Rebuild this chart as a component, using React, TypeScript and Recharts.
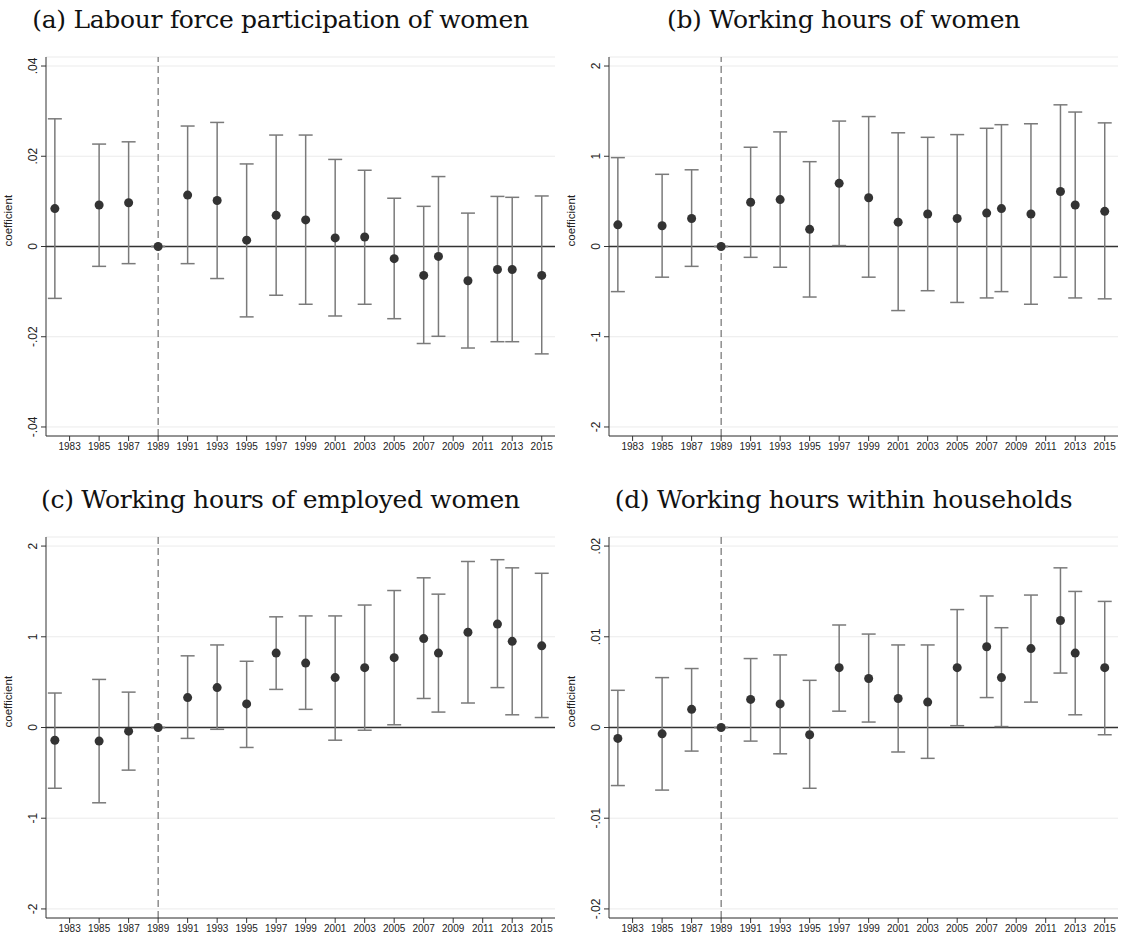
import React from "react";
import {
  ComposedChart,
  Scatter,
  ErrorBar,
  XAxis,
  YAxis,
  CartesianGrid,
  ReferenceLine,
} from "recharts";

const years = [1982, 1985, 1987, 1989, 1991, 1993, 1995, 1997, 1999, 2001, 2003, 2005, 2007, 2008, 2010, 2012, 2013, 2015];
const xTicks = [1983, 1985, 1987, 1989, 1991, 1993, 1995, 1997, 1999, 2001, 2003, 2005, 2007, 2009, 2011, 2013, 2015];

const lfpCoef = [0.0084, 0.0092, 0.0097, 0, 0.0114, 0.0102, 0.0014, 0.0069, 0.0059, 0.0019, 0.0021, -0.0027, -0.0064, -0.0022, -0.0076, -0.0051, -0.0051, -0.0064];
const lfpHi = [0.0283, 0.0227, 0.0232, 0, 0.0267, 0.0275, 0.0183, 0.0247, 0.0247, 0.0193, 0.0169, 0.0107, 0.0089, 0.0155, 0.0074, 0.0111, 0.0109, 0.0112];
const lfpLo = [-0.0115, -0.0044, -0.0038, 0, -0.0038, -0.0071, -0.0156, -0.0108, -0.0128, -0.0154, -0.0128, -0.016, -0.0215, -0.0199, -0.0225, -0.0211, -0.0211, -0.0238];

const hrsCoef = [0.24, 0.23, 0.31, 0, 0.49, 0.52, 0.19, 0.7, 0.54, 0.27, 0.36, 0.31, 0.37, 0.42, 0.36, 0.61, 0.46, 0.39];
const hrsHi = [0.985, 0.8, 0.85, 0, 1.1, 1.27, 0.94, 1.39, 1.44, 1.26, 1.21, 1.24, 1.31, 1.35, 1.36, 1.57, 1.49, 1.37];
const hrsLo = [-0.5, -0.34, -0.22, 0, -0.12, -0.23, -0.56, 0.01, -0.34, -0.71, -0.49, -0.62, -0.57, -0.5, -0.64, -0.34, -0.57, -0.58];

const empCoef = [-0.14, -0.15, -0.04, 0, 0.33, 0.44, 0.26, 0.82, 0.71, 0.55, 0.66, 0.77, 0.98, 0.82, 1.05, 1.14, 0.95, 0.9];
const empHi = [0.38, 0.53, 0.39, 0, 0.79, 0.91, 0.73, 1.22, 1.23, 1.23, 1.35, 1.51, 1.65, 1.47, 1.83, 1.85, 1.76, 1.7];
const empLo = [-0.67, -0.83, -0.47, 0, -0.12, -0.02, -0.22, 0.42, 0.2, -0.14, -0.03, 0.03, 0.32, 0.17, 0.27, 0.44, 0.14, 0.11];

const hhCoef = [-0.0012, -0.0007, 0.002, 0, 0.0031, 0.0026, -0.0008, 0.0066, 0.0054, 0.0032, 0.0028, 0.0066, 0.0089, 0.0055, 0.0087, 0.0118, 0.0082, 0.0066];
const hhHi = [0.0041, 0.0055, 0.0065, 0, 0.0076, 0.008, 0.0052, 0.0113, 0.0103, 0.0091, 0.0091, 0.013, 0.0145, 0.011, 0.0146, 0.0176, 0.015, 0.0139];
const hhLo = [-0.0064, -0.0069, -0.0026, 0, -0.0015, -0.0029, -0.0067, 0.0018, 0.0006, -0.0027, -0.0034, 0.0002, 0.0033, 0.0001, 0.0028, 0.006, 0.0014, -0.0008];

const fmt = (v: number) => {
  if (v === 0) return "0";
  const s = String(Math.round(v * 1000) / 1000);
  return s.replace("0.", ".");
};

const build = (coef: number[], hi: number[], lo: number[]) =>
  years.map((year, i) => ({
    year,
    coef: coef[i],
    err: i === 3 ? [0, 0] : [coef[i] - lo[i], hi[i] - coef[i]],
  }));

const YTick = (props: any) => {
  const { x, y, payload } = props;
  return (
    <text x={x - 2} y={y} transform={`rotate(-90 ${x - 2} ${y})`} textAnchor="middle" fontSize={12} fill="#222" fontFamily="Liberation Sans">
      {fmt(payload.value)}
    </text>
  );
};

type PanelProps = {
  title: string;
  data: { year: number; coef: number; err: number[] }[];
  ticks: number[];
  max: number;
  left: number;
  top: number;
  height: number;
};

function Panel({ title, data, ticks, max, left, top, height }: PanelProps) {
  return (
    <div style={{ position: "absolute", left, top: top - 46 }}>
      <div style={{ width: 561, textAlign: "center", fontFamily: "DejaVu Serif", fontSize: 25, height: 46, lineHeight: "42px", color: "#111", letterSpacing: -0.3 }}>
        {title}
      </div>
      <ComposedChart width={561} height={height} data={data} margin={{ top: 12, right: 6, bottom: 0, left: 0 }}>
        <CartesianGrid horizontal vertical={false} stroke="#ebebeb" />
        <XAxis
          type="number"
          dataKey="year"
          domain={[1981.4, 2015.9]}
          ticks={xTicks}
          interval={0}
          height={20}
          tick={{ fontSize: 10, fill: "#222", fontFamily: "Liberation Sans" }}
          tickSize={5}
          stroke="#333"
        />
        <YAxis
          type="number"
          domain={[-max * 1.05, max * 1.05]}
          ticks={ticks}
          width={46}
          tick={<YTick />}
          tickSize={5}
          stroke="#333"
          label={{ value: "coefficient", angle: -90, position: "insideLeft", offset: 8, fontSize: 11.5, fill: "#222", fontFamily: "Liberation Sans" }}
        />
        <ReferenceLine y={0} stroke="#333" strokeWidth={1.3} />
        <ReferenceLine x={1989} stroke="#555" strokeDasharray="7 4" />
        <Scatter dataKey="coef" fill="#333" isAnimationActive={false} shape={(p: any) => <circle cx={p.cx} cy={p.cy} r={4.5} fill="#333" />}>
          <ErrorBar dataKey="err" direction="y" width={7} stroke="#7a7a7a" strokeWidth={1.5} isAnimationActive={false} />
        </Scatter>
      </ComposedChart>
    </div>
  );
}

export default function App() {
  return (
    <div style={{ position: "absolute", left: 0, top: 0, width: 1122, height: 938, background: "#fff" }}>
      <Panel title="(a) Labour force participation of women" data={build(lfpCoef, lfpHi, lfpLo)} ticks={[-0.04, -0.02, 0, 0.02, 0.04]} max={0.04} left={0} top={45} height={411} />
      <Panel title="(b) Working hours of women" data={build(hrsCoef, hrsHi, hrsLo)} ticks={[-2, -1, 0, 1, 2]} max={2} left={563} top={45} height={411} />
      <Panel title="(c) Working hours of employed women" data={build(empCoef, empHi, empLo)} ticks={[-2, -1, 0, 1, 2]} max={2} left={0} top={525} height={413} />
      <Panel title="(d) Working hours within households" data={build(hhCoef, hhHi, hhLo)} ticks={[-0.02, -0.01, 0, 0.01, 0.02]} max={0.02} left={563} top={525} height={413} />
    </div>
  );
}
